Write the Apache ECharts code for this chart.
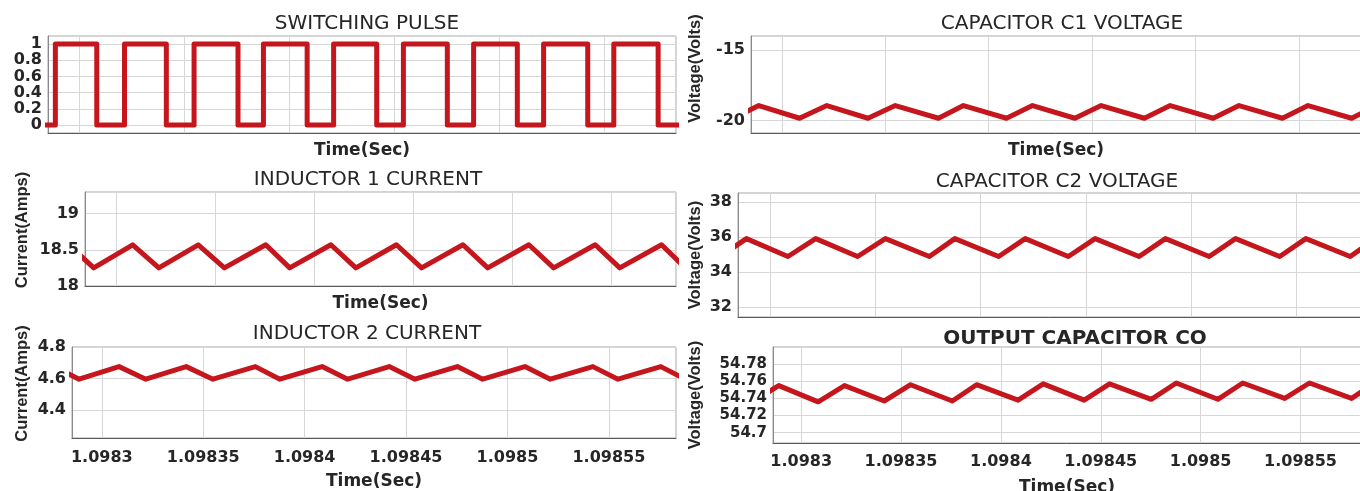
<!DOCTYPE html>
<html>
<head>
<meta charset="utf-8">
<script src="https://cdn.jsdelivr.net/npm/echarts@6/dist/echarts.min.js"></script>
<style>
html,body{margin:0;padding:0;background:#ffffff;}
#chart{width:1360px;height:491px;}
</style>
</head>
<body>
<div id="chart"></div>
<script>
// ---- Data ----
// switching instants: off (F0), on (R1), off (F1), on (R2) ... on (R10)
const vertexTimes = [
  1.0982763, 1.0982888, 1.0983085, 1.0983217, 1.0983416, 1.0983548, 1.0983757,
  1.0983878, 1.0984086, 1.0984212, 1.0984417, 1.0984544, 1.0984753, 1.0984878,
  1.0985086, 1.0985211, 1.0985421, 1.0985545, 1.0985756, 1.0985876
];
const pulseLevel = [0, 1, 0, 1, 0, 1, 0, 1, 0, 1, 0, 1, 0, 1, 0, 1, 0, 1, 0, 1];
const c1Voltage = [
  -19.85, -18.95, -19.85, -18.95, -19.85, -18.95, -19.85, -18.95, -19.85, -18.95,
  -19.85, -18.95, -19.85, -18.95, -19.85, -18.95, -19.85, -18.95, -19.85, -18.95
];
const inductor1Current = [
  18.57, 18.25, 18.57, 18.25, 18.57, 18.25, 18.57, 18.25, 18.57, 18.25,
  18.57, 18.25, 18.57, 18.25, 18.57, 18.25, 18.57, 18.25, 18.57, 18.25
];
const c2Voltage = [
  34.88, 35.9, 34.88, 35.9, 34.88, 35.9, 34.88, 35.9, 34.88, 35.9,
  34.88, 35.9, 34.88, 35.9, 34.88, 35.9, 34.88, 35.9, 34.88, 35.9
];
const inductor2Current = [
  4.675, 4.595, 4.675, 4.595, 4.675, 4.595, 4.675, 4.595, 4.675, 4.595,
  4.675, 4.595, 4.675, 4.595, 4.675, 4.595, 4.675, 4.595, 4.675, 4.595
];
const outputVoltage = [
  54.737, 54.755, 54.736, 54.755, 54.737, 54.756, 54.737, 54.756, 54.738, 54.757,
  54.738, 54.757, 54.739, 54.758, 54.739, 54.758, 54.740, 54.758, 54.740, 54.759
];
const panelTitles = [
  'SWITCHING PULSE', 'CAPACITOR C1 VOLTAGE', 'INDUCTOR 1 CURRENT',
  'CAPACITOR C2 VOLTAGE', 'INDUCTOR 2 CURRENT', 'OUTPUT CAPACITOR CO'
];
const xAxisTitle = 'Time(Sec)';
const yAxisTitles = ['', 'Voltage(Volts)', 'Current(Amps)', 'Voltage(Volts)', 'Current(Amps)', 'Voltage(Volts)'];
const seriesValues = [pulseLevel, c1Voltage, inductor1Current, c2Voltage, inductor2Current, outputVoltage];
const yRanges = [[-0.1, 1.1], [-20.9, -14], [18, 19.3], [31.43, 38.5], [4.22, 4.8], [54.688, 54.80]];
const yTickSteps = [0.2, 5, 0.5, 2, 0.2, 0.02];
const xRanges = [
  [1.0982853, 1.0985841], [1.0982850, 1.0985801], [1.0982844, 1.0985829],
  [1.0982848, 1.0985807], [1.0982853, 1.0985831], [1.0982859, 1.0985803]
];
const xTickStep = 0.00005;

// ---- Layout / style ----
const RED = '#c4161c';
const WIDE = '"DejaVu Sans", Verdana, sans-serif';
const NARROW = '"Liberation Sans", Arial, sans-serif';
const TXT = '#262626';
const layout = [
  {grid:{left:48, top:36, width:628, height:97}, title:[362,9], titleBold:false, xLabels:false, xMargin:9, xName:true, xGap:9, yGap:0, yPad:0, minLbl:false, maxLbl:false, yFont:16},
  {grid:{left:751, top:36, width:610, height:97}, title:[1057,9], titleBold:false, xLabels:false, xMargin:9, xName:true, xGap:9, yGap:47, yPad:32, minLbl:false, maxLbl:false, yFont:16},
  {grid:{left:85, top:192, width:591, height:94}, title:[363,165], titleBold:false, xLabels:false, xMargin:9, xName:true, xGap:9, yGap:54, yPad:18, minLbl:true, maxLbl:false, yFont:16},
  {grid:{left:738, top:193, width:623, height:124}, title:[1052,167], titleBold:false, xLabels:false, xMargin:9, xName:false, xGap:9, yGap:34, yPad:0, minLbl:false, maxLbl:false, yFont:16},
  {grid:{left:72, top:347, width:604, height:91}, title:[362,319], titleBold:false, xLabels:true, xMargin:12, xName:true, xGap:35, yGap:41, yPad:18, minLbl:false, maxLbl:true, yFont:16},
  {grid:{left:773, top:347, width:588, height:96}, title:[1070,324], titleBold:true, xLabels:true, xMargin:11, xName:true, xGap:36, yGap:69, yPad:0, minLbl:false, maxLbl:false, yFont:15}
];

const option = {
  animation: false,
  backgroundColor: '#ffffff',
  title: layout.map((L, i) => ({
    text: panelTitles[i], left: L.title[0], top: L.title[1], textAlign: 'center',
    textStyle: {fontFamily: WIDE, fontSize: 20, fontWeight: L.titleBold ? 'bold' : 'normal', color: TXT}
  })),
  grid: layout.map(L => Object.assign({show:true, borderColor:'#a6a6a6', borderWidth:1, backgroundColor:'#ffffff', outerBoundsMode:'none', containLabel:false}, L.grid)),
  xAxis: layout.map((L, i) => ({
    type: 'value', gridIndex: i, min: xRanges[i][0], max: xRanges[i][1],
    minInterval: xTickStep, maxInterval: xTickStep, splitNumber: 6,
    axisLine: {show: true, onZero: false, lineStyle: {color: '#5a5a5a', width: 1}},
    axisTick: {show: false},
    splitLine: {show: true, lineStyle: {color: '#d6d6d6', width: 1}},
    axisLabel: {show: L.xLabels, showMinLabel: false, showMaxLabel: false, margin: L.xMargin,
      fontFamily: WIDE, fontWeight: 'bold', fontSize: 16, color: TXT},
    name: L.xName ? xAxisTitle : '', nameLocation: 'middle', nameGap: L.xGap, nameMoveOverlap: false,
    nameTextStyle: {fontFamily: WIDE, fontWeight: 'bold', fontSize: 17, color: TXT}
  })),
  yAxis: layout.map((L, i) => ({
    type: 'value', gridIndex: i, min: yRanges[i][0], max: yRanges[i][1],
    minInterval: yTickSteps[i], maxInterval: yTickSteps[i], splitNumber: 6,
    axisLine: {show: true, onZero: false, lineStyle: {color: '#8a8a8a', width: 1}},
    axisTick: {show: false},
    splitLine: {show: true, lineStyle: {color: '#d6d6d6', width: 1}},
    axisLabel: {show: true, showMinLabel: L.minLbl, showMaxLabel: L.maxLbl, margin: 6,
      fontFamily: WIDE, fontWeight: 'bold', fontSize: L.yFont, color: TXT},
    name: yAxisTitles[i], nameLocation: 'middle', nameRotate: 90, nameGap: L.yGap, nameMoveOverlap: false,
    nameTextStyle: {fontFamily: NARROW, fontWeight: 'bold', fontSize: 16.5, color: TXT, padding: [0, 0, 0, L.yPad]}
  })),
  series: seriesValues.map((vals, i) => ({
    type: 'line', xAxisIndex: i, yAxisIndex: i, showSymbol: false, silent: true, clip: true,
    step: i === 0 ? 'end' : false,
    lineStyle: {color: RED, width: 5, join: 'round', cap: 'round'},
    data: vertexTimes.map((t, k) => [t, vals[k]])
  }))
};

const chart = echarts.init(document.getElementById('chart'), null, {renderer: 'canvas'});
chart.setOption(option);
</script>
</body>
</html>
